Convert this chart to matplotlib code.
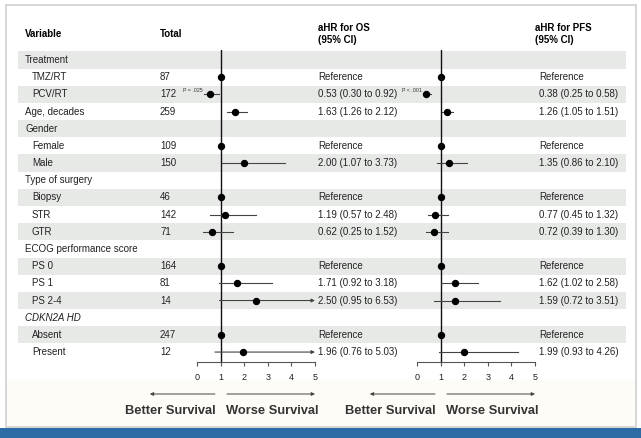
import numpy as np
import matplotlib
matplotlib.use("Agg")
import matplotlib.pyplot as plt
from matplotlib.patches import Rectangle

plt.rcParams['font.family'] = ['Liberation Sans', 'DejaVu Sans']

nan = np.nan

# table rows: label, indent level, number of patients
labels = ["Treatment", "TMZ/RT", "PCV/RT", "Age, decades", "Gender", "Female", "Male",
          "Type of surgery", "Biopsy", "STR", "GTR", "ECOG performance score",
          "PS 0", "PS 1", "PS 2-4", "CDKN2A HD", "Absent", "Present"]
indent = [0, 1, 1, 0, 0, 1, 1, 0, 1, 1, 1, 0, 1, 1, 1, 0, 1, 1]
totals = ["", "87", "172", "259", "", "109", "150", "", "46", "142", "71", "",
          "164", "81", "14", "", "247", "12"]

# adjusted hazard ratios, overall survival
os_hr = [nan, 1, 0.53, 1.63, nan, 1, 2.00, nan, 1, 1.19, 0.62, nan, 1, 1.71, 2.50, nan, 1, 1.96]
os_lo = [nan, nan, 0.30, 1.26, nan, nan, 1.07, nan, nan, 0.57, 0.25, nan, nan, 0.92, 0.95, nan, nan, 0.76]
os_hi = [nan, nan, 0.92, 2.12, nan, nan, 3.73, nan, nan, 2.48, 1.52, nan, nan, 3.18, 6.53, nan, nan, 5.03]

# adjusted hazard ratios, progression-free survival
pfs_hr = [nan, 1, 0.38, 1.26, nan, 1, 1.35, nan, 1, 0.77, 0.72, nan, 1, 1.62, 1.59, nan, 1, 1.99]
pfs_lo = [nan, nan, 0.25, 1.05, nan, nan, 0.86, nan, nan, 0.45, 0.39, nan, nan, 1.02, 0.72, nan, nan, 0.93]
pfs_hi = [nan, nan, 0.58, 1.51, nan, nan, 2.10, nan, nan, 1.32, 1.30, nan, nan, 2.58, 3.51, nan, nan, 4.26]

os_p = "P = .025"
pfs_p = "P < .001"
xticks = [0, 1, 2, 3, 4, 5]

W, H = 641, 438
fig = plt.figure(figsize=(W / 100, H / 100), dpi=100)
ax = fig.add_axes([0, 0, 1, 1])
ax.set_xlim(0, W)
ax.set_ylim(H, 0)
ax.axis("off")

row_y = 60 + np.arange(len(labels)) * 17.18
fs = 7.0

# frame, footer band and zebra stripes
ax.add_patch(Rectangle((6, 5), 630, 422, facecolor="white", edgecolor="#cfcfcf", lw=1.2))
ax.add_patch(Rectangle((7, 380), 628, 46, facecolor="#fefcf7", edgecolor="none"))
ax.add_patch(Rectangle((0, 428), W, 10, facecolor="#2c6ba4", edgecolor="none"))
for i, y in enumerate(row_y):
    if i % 2 == 0:
        ax.add_patch(Rectangle((18, y - 8.6), 608, 17.2, facecolor="#e7e9e7", edgecolor="none"))

# headers
ax.text(25, 34, "Variable", fontsize=fs, fontweight="bold", va="center")
ax.text(160, 34, "Total", fontsize=fs, fontweight="bold", va="center")
ax.text(318, 34, "aHR for OS\n(95% CI)", fontsize=fs, fontweight="bold", va="center", linespacing=1.3)
ax.text(535, 34, "aHR for PFS\n(95% CI)", fontsize=fs, fontweight="bold", va="center", linespacing=1.3)

for i, y in enumerate(row_y):
    style = "italic" if labels[i].startswith("CDKN2A") else "normal"
    ax.text(25 + 7 * indent[i], y, labels[i], fontsize=fs, va="center", style=style, color="#222222")
    ax.text(160, y, totals[i], fontsize=fs, va="center", color="#222222")


def ci_text(hr, lo, hi):
    if np.isnan(hr):
        return ""
    if np.isnan(lo):
        return "Reference"
    return "%.2f (%.2f to %.2f)" % (hr, lo, hi)


def forest(left_px, hr, lo, hi, text_x, p_text):
    fa = fig.add_axes([left_px / W, (H - 362) / H, 118 / W, 312 / H])
    fa.set_xlim(0, 5)
    fa.set_ylim(362, 50)
    fa.patch.set_alpha(0)
    for s in ["left", "right", "top"]:
        fa.spines[s].set_visible(False)
    fa.spines["bottom"].set_color("#555555")
    fa.spines["bottom"].set_linewidth(0.8)
    fa.set_yticks([])
    fa.set_xticks(xticks)
    fa.tick_params(axis="x", length=3, width=0.8, color="#555555", labelsize=6.5, pad=5, labelcolor="#222222")
    fa.axvline(1, color="#111111", lw=1.0, zorder=1)

    for i, y in enumerate(row_y):
        if np.isnan(hr[i]):
            continue
        if not np.isnan(lo[i]):
            if hi[i] > 5:
                fa.annotate("", xy=(5, y), xytext=(lo[i], y),
                            arrowprops=dict(arrowstyle="-|>", color="#444444", lw=0.8,
                                            mutation_scale=5, shrinkA=0, shrinkB=0),
                            annotation_clip=False)
            else:
                fa.plot([lo[i], hi[i]], [y, y], color="#444444", lw=0.8, clip_on=False)
        fa.plot(hr[i], y, "o", color="black", markersize=4.3, clip_on=False, zorder=3)
        ax.text(text_x, y, ci_text(hr[i], lo[i], hi[i]), fontsize=fs, va="center", color="#222222")

    # P value next to the PCV/RT estimate
    fa.text(lo[2] - 0.05, row_y[2] - 4, p_text, fontsize=3.8, ha="right", va="center",
            color="#333333", clip_on=False)

    # direction arrows and captions
    fa.annotate("", xy=(-2.0, 394), xytext=(0.76, 394),
                arrowprops=dict(arrowstyle="-|>", color="#444444", lw=0.7, mutation_scale=5,
                                shrinkA=0, shrinkB=0), annotation_clip=False)
    fa.annotate("", xy=(5.0, 394), xytext=(1.27, 394),
                arrowprops=dict(arrowstyle="-|>", color="#444444", lw=0.7, mutation_scale=5,
                                shrinkA=0, shrinkB=0), annotation_clip=False)
    fa.text(-1.14, 411, "Better Survival", fontsize=9.3, fontweight="bold", ha="center",
            va="center", color="#333333", clip_on=False)
    fa.text(3.2, 411, "Worse Survival", fontsize=9.3, fontweight="bold", ha="center",
            va="center", color="#333333", clip_on=False)
    return fa


forest(197, os_hr, os_lo, os_hi, 318, os_p)
forest(417, pfs_hr, pfs_lo, pfs_hi, 539, pfs_p)

fig.savefig("out.png", dpi=100)
